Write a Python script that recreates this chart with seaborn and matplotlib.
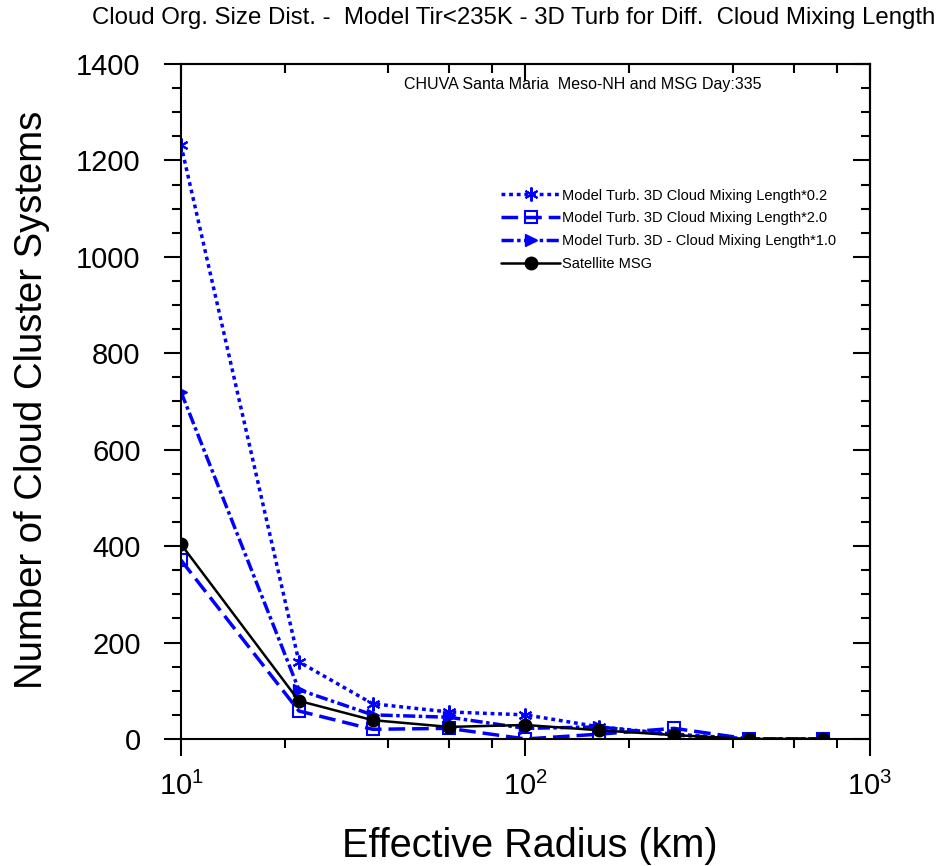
import matplotlib
matplotlib.use("Agg")
import matplotlib.pyplot as plt
import seaborn as sns
from matplotlib.ticker import FixedLocator, FixedFormatter, NullFormatter, MultipleLocator

# Effective radius (km) and number of cloud cluster systems per bin
radius = [10, 22, 36, 60, 100, 164, 270, 445, 732]
mix_02 = [1232, 160, 73, 56, 50, 25, 10, 0, 0]
mix_20 = [371, 58, 20, 22, 0, 10, 22, 0, 0]
mix_10 = [720, 102, 50, 45, 22, 25, 8, 0, 0]
sat_msg = [404, 79, 39, 25, 29, 18, 8, 0, 0]

series_labels = ["Model Turb. 3D Cloud Mixing Length*0.2",
                 "Model Turb. 3D Cloud Mixing Length*2.0",
                 "Model Turb. 3D - Cloud Mixing Length*1.0",
                 "Satellite MSG"]

sns.set_style("ticks")
plt.rcParams['font.family'] = ['Liberation Sans', 'DejaVu Sans']
plt.rcParams['axes.linewidth'] = 1.5
for key in ["text.color", "axes.labelcolor", "xtick.color", "ytick.color", "axes.edgecolor"]:
    plt.rcParams[key] = "black"

fig = plt.figure(figsize=(9.45, 8.66), dpi=100)
ax = fig.add_axes([0.1915, 0.1467, 0.7291, 0.7794])

blue = "#0000ff"
sns.lineplot(x=radius, y=mix_02, ax=ax, sort=False, color=blue, lw=2.5,
             linestyle=(0, (1.1, 1.1)), marker=(6, 2, 0), markersize=10,
             mec=blue, mew=1.5, label=series_labels[0])
sns.lineplot(x=radius, y=mix_20, ax=ax, sort=False, color=blue, lw=2.5,
             linestyle=(0, (4.8, 2)), marker="s", markersize=8,
             mfc="none", mec=blue, mew=1.5, label=series_labels[1])
sns.lineplot(x=radius, y=mix_10, ax=ax, sort=False, color=blue, lw=2.5,
             linestyle=(0, (3.5, 1, 1, 1)), marker=">", markersize=8,
             mfc=blue, mec=blue, mew=1, label=series_labels[2])
sns.lineplot(x=radius, y=sat_msg, ax=ax, sort=False, color="black", lw=1.8,
             marker="o", markersize=9, mfc="black", mec="black", mew=1,
             label=series_labels[3])

ax.set_xscale("log")
ax.set_xlim(10, 1000)
ax.set_ylim(0, 1400)

major_x = [10, 100, 1000]
minor_x = [20, 40, 60, 80, 200, 400, 600, 800]
ax.xaxis.set_major_locator(FixedLocator(major_x))
ax.xaxis.set_major_formatter(FixedFormatter([r"$\mathregular{10^{1}}$",
                                             r"$\mathregular{10^{2}}$",
                                             r"$\mathregular{10^{3}}$"]))
ax.xaxis.set_minor_locator(FixedLocator(minor_x))
ax.xaxis.set_minor_formatter(NullFormatter())
ax.yaxis.set_major_locator(MultipleLocator(200))
ax.yaxis.set_minor_locator(MultipleLocator(50))

ax.tick_params(which="major", direction="out", length=12, width=1.5, labelsize=21)
ax.tick_params(which="minor", direction="out", length=6.5, width=1.5)
ax.tick_params(axis="y", pad=17)
ax.tick_params(axis="x", pad=12)

# top / right ticks point inward
top = ax.secondary_xaxis("top")
top.xaxis.set_major_locator(FixedLocator(major_x))
top.xaxis.set_minor_locator(FixedLocator(minor_x))
top.xaxis.set_major_formatter(NullFormatter())
top.xaxis.set_minor_formatter(NullFormatter())
top.tick_params(which="major", direction="in", length=12, width=1.5)
top.tick_params(which="minor", direction="in", length=6.5, width=1.5)

right = ax.secondary_yaxis("right")
right.yaxis.set_major_locator(MultipleLocator(200))
right.yaxis.set_minor_locator(MultipleLocator(50))
right.yaxis.set_major_formatter(NullFormatter())
right.tick_params(which="major", direction="in", length=12, width=1.5)
right.tick_params(which="minor", direction="in", length=6.5, width=1.5)

ax.set_xlabel("Effective Radius (km)", fontsize=28.5)
ax.set_ylabel("Number of Cloud Cluster Systems", fontsize=27.5)
ax.xaxis.set_label_coords(0.506, -0.13)
ax.yaxis.set_label_coords(-0.19, 0.502)

ax.legend(loc="upper left", bbox_to_anchor=(0.464, 0.8155), frameon=False,
          prop={"family": "Liberation Sans", "size": 10.5}, handlelength=4.1,
          handletextpad=0.1, labelspacing=0.6, borderaxespad=0, borderpad=0)

ax.text(0.583, 0.969, "CHUVA Santa Maria  Meso-NH and MSG Day:335",
        transform=ax.transAxes, ha="center", va="center",
        family="Liberation Sans", fontsize=11.5)

fig.text(0.544, 0.979,
         "Cloud Org. Size Dist. -  Model Tir<235K - 3D Turb for Diff.  Cloud Mixing Length",
         ha="center", va="center", fontsize=17.3)

fig.savefig("out.png", dpi=100)
